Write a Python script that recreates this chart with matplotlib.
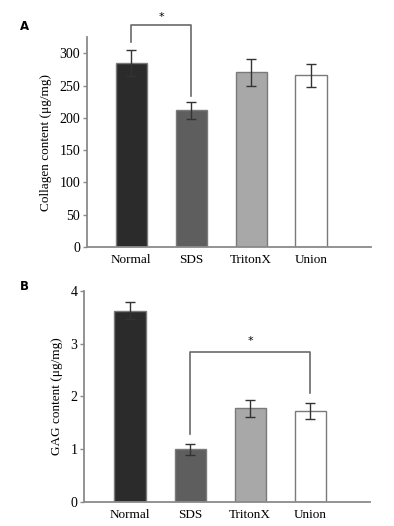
import matplotlib
matplotlib.use('Agg')
import matplotlib.pyplot as plt
import numpy as np

# data
groups = ['Normal', 'SDS', 'TritonX', 'Union']
bar_colors = ['#2b2b2b', '#5e5e5e', '#a8a8a8', '#ffffff']

collagen = [285, 212, 271, 266]
collagen_err = [20, 13, 21, 18]

gag = [3.62, 1.00, 1.78, 1.72]
gag_err = [0.16, 0.10, 0.16, 0.15]

# significance brackets: (left group, right group, top, left leg end, right leg end, star height)
sig_a = (0, 1, 344, 317, 234, 357)
sig_b = (1, 3, 2.85, 1.29, 2.06, 3.05)

plt.rcParams['font.family'] = ['Liberation Serif', 'DejaVu Serif']
edge = '#7a7a7a'
spine = '#8a8a8a'


def draw_panel(ax, values, errors, ylim, yticks, ylabel, sig, xlim):
    x = np.arange(len(groups))
    ax.bar(x, values, width=0.52, color=bar_colors, edgecolor=edge, linewidth=1.0, zorder=2)
    ax.errorbar(x, values, yerr=errors, fmt='none', ecolor='#333333', elinewidth=1.0,
                capsize=3.5, capthick=1.0, zorder=3)
    ax.set_xlim(*xlim)
    ax.set_ylim(*ylim)
    ax.set_yticks(yticks)
    ax.set_xticks(x)
    ax.set_xticklabels(groups, fontsize=9.5)
    ax.tick_params(axis='x', length=0, pad=5)
    ax.tick_params(axis='y', length=3, width=1.0, color=spine, labelsize=10, pad=2)
    for s in ['top', 'right']:
        ax.spines[s].set_visible(False)
    for s in ['left', 'bottom']:
        ax.spines[s].set_color(spine)
        ax.spines[s].set_linewidth(1.3)
    ax.set_ylabel(ylabel, fontsize=9.5, labelpad=5)

    i, j, top, left_end, right_end, star_y = sig
    ax.plot([i, i, j, j], [left_end, top, top, right_end], color='#6a6a6a', lw=1.2,
            clip_on=False, zorder=4)
    ax.text((i + j) / 2, star_y, '*', ha='center', va='center', fontsize=8,
            family='DejaVu Sans', clip_on=False)


fig = plt.figure(figsize=(3.94, 5.26), dpi=100)
ax_a = fig.add_axes([0.2208, 0.5304, 0.7208, 0.3987])
ax_b = fig.add_axes([0.2140, 0.0451, 0.7250, 0.4022])

draw_panel(ax_a, collagen, collagen_err, (0, 325), [0, 50, 100, 150, 200, 250, 300],
           'Collagen content (μg/mg)', sig_a, (-0.74, 4.0))
draw_panel(ax_b, gag, gag_err, (0, 4), [0, 1, 2, 3, 4],
           'GAG content (μg/mg)', sig_b, (-0.76, 3.99))

fig.text(24 / 394, 1 - 27 / 526, 'A', fontsize=8.5, fontweight='bold', family='DejaVu Sans',
         ha='center', va='center')
fig.text(24 / 394, 1 - 286 / 526, 'B', fontsize=8.5, fontweight='bold', family='DejaVu Sans',
         ha='center', va='center')

fig.savefig('out.png', dpi=100)
